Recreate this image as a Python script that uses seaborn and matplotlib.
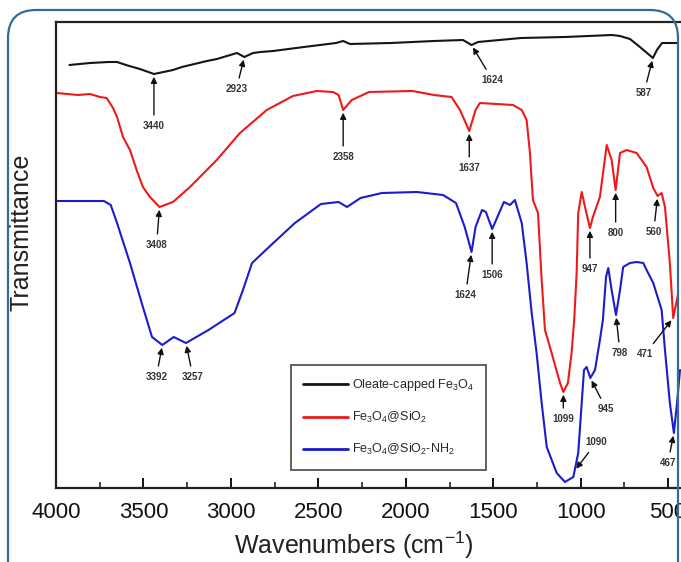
import numpy as np
import pandas as pd
import matplotlib
matplotlib.use("Agg")
import matplotlib.pyplot as plt
import seaborn as sns
from matplotlib.patches import FancyBboxPatch
from matplotlib.transforms import IdentityTransform

# ---------------- data ----------------
series_names = ["Oleate-capped Fe$_3$O$_4$", "Fe$_3$O$_4$@SiO$_2$", "Fe$_3$O$_4$@SiO$_2$-NH$_2$"]
series_colors = ["#151515", "#ee1a1a", "#1c1ccc"]

black_wn = [3923, 3806, 3699, 3651, 3600, 3520, 3440, 3331, 3280, 3137, 3080, 2965, 2923, 2874,
            2830, 2759, 2582, 2399, 2358, 2319, 2085, 1839, 1673, 1624, 1587, 1341, 1090, 821,
            775, 718, 661, 587, 564, 535, 490, 447]
black_T = [423, 425, 426, 426, 423, 419, 414, 418, 421, 427, 429, 435, 431, 435,
           436, 437, 441, 445, 447, 444, 445, 447, 448, 443, 446, 450, 451, 453,
           452, 449, 441, 430, 438, 445, 445, 445]

red_wn = [3996, 3874, 3806, 3748, 3710, 3674, 3651, 3617, 3577, 3539, 3503, 3463, 3408, 3331,
          3234, 3081, 2948, 2795, 2645, 2509, 2416, 2384, 2358, 2309, 2210, 1961, 1839, 1738,
          1690, 1637, 1601, 1576, 1387, 1337, 1309, 1290, 1273, 1244, 1223, 1204, 1166, 1118,
          1099, 1073, 1052, 1037, 1023, 1014, 994, 975, 947, 930, 890, 851, 823, 800, 775,
          737, 680, 623, 585, 560, 537, 518, 490, 471, 444]
red_T = [395, 393, 394, 391, 390, 380, 371, 351, 338, 318, 301, 291, 281, 286,
         301, 328, 355, 378, 392, 397, 396, 393, 378, 388, 396, 397, 393, 391,
         378, 357, 378, 385, 383, 378, 368, 335, 288, 275, 208, 158, 135, 105,
         96, 105, 135, 168, 215, 275, 296, 281, 260, 271, 291, 343, 328, 298, 335,
         338, 335, 321, 300, 292, 295, 281, 225, 170, 193]

blue_wn = [3997, 3726, 3687, 3651, 3577, 3503, 3451, 3392, 3327, 3257, 3128, 2979, 2931, 2879,
           2782, 2634, 2485, 2384, 2336, 2259, 2136, 1936, 1787, 1713, 1663, 1624, 1601, 1564,
           1542, 1506, 1439, 1404, 1376, 1337, 1309, 1280, 1252, 1223, 1194, 1137, 1090, 1042,
           1014, 994, 981, 966, 945, 918, 890, 873, 855, 842, 823, 798, 775, 757, 718, 680,
           642, 623, 585, 537, 518, 490, 467, 449, 432]
blue_T = [287, 287, 283, 265, 225, 181, 151, 143, 151, 145, 158, 175, 198, 225,
          241, 265, 284, 286, 281, 290, 295, 296, 293, 285, 261, 236, 261, 278,
          276, 259, 286, 283, 288, 265, 225, 175, 135, 85, 41, 15, 6, 11,
          35, 85, 118, 121, 110, 118, 148, 168, 211, 220, 198, 173, 198, 221, 225, 226,
          225, 218, 205, 178, 138, 85, 55, 85, 118]

# peak annotations: (series index, label value, wavenumber the arrow points to)
peak_series = [0, 0, 0, 0, 1, 1, 1, 1, 1, 1, 1, 1, 2, 2, 2, 2, 2, 2, 2, 2]
peak_labels = [3440, 2923, 1624, 587, 3408, 2358, 1637, 1099, 947, 800, 560, 471,
               3392, 3257, 1624, 1506, 1090, 945, 798, 467]
peak_targets = [3440, 2923, 1624, 587, 3408, 2358, 1637, 1099, 947, 800, 560, 471,
                3392, 3257, 1624, 1506, 1035, 945, 798, 467]

x_ticks = [4000, 3500, 3000, 2500, 2000, 1500, 1000, 500]

# ---------------- layout (pixel offsets of labels from arrow tips) ----------------
label_offsets_px = [(0, -52), (-8, -32), (21, -35), (-9, -35),
                    (-3, -38), (0, -47), (0, -37), (0, -27), (0, -41), (0, -43), (-4, -36), (-28, -36),
                    (-6, -32), (7, -34), (-6, -43), (0, -46), (22, 29), (16, -31), (4, -38), (-6, -30)]

sns.set_theme(style="white")
plt.rcParams["font.family"] = ["Liberation Sans", "DejaVu Sans"]
plt.rcParams["mathtext.fontset"] = "custom"
plt.rcParams["mathtext.rm"] = "Liberation Sans"
plt.rcParams["mathtext.it"] = "Liberation Sans:italic"
plt.rcParams["mathtext.bf"] = "Liberation Sans:bold"

W, H = 681, 562
fig = plt.figure(figsize=(W / 100, H / 100), dpi=100)
fig.patch.set_facecolor("white")
ax = fig.add_axes([56 / W, (H - 488) / H, 629.6 / W, 466 / H])
ax.set_facecolor("white")

frames = []
for name, wn, T in [(series_names[0], black_wn, black_T),
                    (series_names[1], red_wn, red_T),
                    (series_names[2], blue_wn, blue_T)]:
    frames.append(pd.DataFrame({"wn": wn, "T": T, "sample": name}))
df = pd.concat(frames, ignore_index=True)

sns.lineplot(data=df, x="wn", y="T", hue="sample", hue_order=series_names,
             palette=series_colors, estimator=None, sort=True, lw=1.5, ax=ax)

ax.set_xlim(4000, 400)
ax.set_ylim(0, 466)
ax.set_xticks(x_ticks)
ax.set_xticks(np.arange(3750, 400, -500), minor=True)
ax.set_yticks([])
ax.tick_params(axis="x", which="major", direction="in", length=7, width=1.4,
               labelsize=16, pad=10, colors="#111", bottom=True)
ax.tick_params(axis="x", which="minor", direction="in", length=4, width=1.2, bottom=True)
for s in ax.spines.values():
    s.set_color("#222")
    s.set_linewidth(1.6)

ax.set_xlabel("Wavenumbers (cm$^{-1}$)", fontsize=18, color="#222")
ax.set_ylabel("Transmittance", fontsize=18, color="#222")
ax.xaxis.set_label_coords((354 - 56) / 629.6, (488 - 530) / 466)
ax.yaxis.set_label_coords((34 - 56) / 629.6, (488 - 232) / 466)

# annotations
all_wn = [black_wn, red_wn, blue_wn]
all_T = [black_T, red_T, blue_T]
for si, lab, tgt, (dx, dy) in zip(peak_series, peak_labels, peak_targets, label_offsets_px):
    wn = np.array(all_wn[si])[::-1]
    T = np.array(all_T[si])[::-1]
    yv = np.interp(tgt, wn, T)
    ax.annotate(str(lab), xy=(tgt, yv), xytext=(dx * 0.72, dy * 0.72), textcoords="offset points",
                ha="center", va="center", fontsize=7, fontweight="bold", color="#333",
                arrowprops=dict(arrowstyle="-|>", color="#111", lw=1.0, mutation_scale=9,
                                shrinkA=2, shrinkB=2))

handles, labels = ax.get_legend_handles_labels()
leg = ax.legend(handles, labels, loc="upper left", bbox_to_anchor=(0.3725, 0.264),
                fontsize=9, frameon=True, fancybox=False, framealpha=1,
                edgecolor="#555", handlelength=3.6, handletextpad=0.3,
                labelspacing=1.35, borderpad=1.0, borderaxespad=0)
leg.get_frame().set_linewidth(1.3)
for ln in leg.get_lines():
    ln.set_linewidth(2.0)

# rounded outer frame
frame = FancyBboxPatch((8, -40), 670, 592, boxstyle="round,pad=0,rounding_size=28",
                       transform=IdentityTransform(), facecolor="none",
                       edgecolor="#2e6e9e", linewidth=1.6, zorder=10)
fig.add_artist(frame)

fig.savefig("out.png", dpi=100, facecolor="white")
